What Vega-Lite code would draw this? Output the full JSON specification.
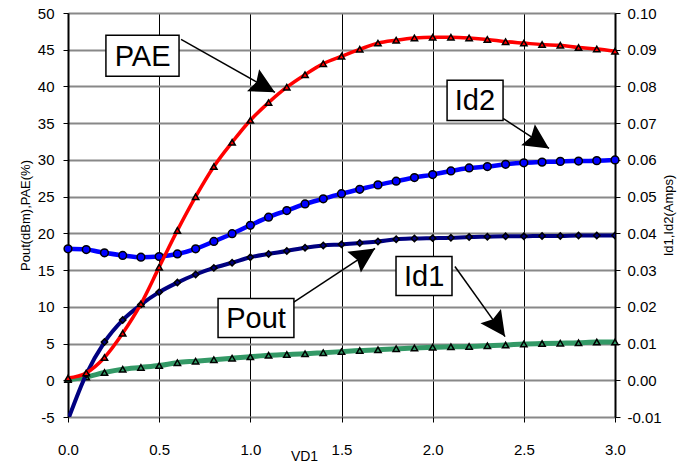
{
  "$schema": "https://vega.github.io/schema/vega-lite/v6.json",
  "width": 547,
  "height": 404,
  "autosize": {"type": "none"},
  "padding": {"left": 68, "top": 13, "right": 78, "bottom": 45},
  "background": "white",
  "datasets": {
    "left": [
      {"vd": 0.0, "pae": 0.3, "pout": -5.4},
      {"vd": 0.1, "pae": 1.0, "pout": 0.8},
      {"vd": 0.2, "pae": 3.1, "pout": 5.2},
      {"vd": 0.3, "pae": 6.4, "pout": 8.2},
      {"vd": 0.4, "pae": 10.4, "pout": 10.3},
      {"vd": 0.5, "pae": 15.4, "pout": 12.0},
      {"vd": 0.6, "pae": 20.4, "pout": 13.3},
      {"vd": 0.7, "pae": 25.0, "pout": 14.4},
      {"vd": 0.8, "pae": 29.1, "pout": 15.3},
      {"vd": 0.9, "pae": 32.4, "pout": 16.0},
      {"vd": 1.0, "pae": 35.4, "pout": 16.75},
      {"vd": 1.1, "pae": 37.8, "pout": 17.2},
      {"vd": 1.2, "pae": 39.9, "pout": 17.6},
      {"vd": 1.3, "pae": 41.6, "pout": 18.05},
      {"vd": 1.4, "pae": 43.1, "pout": 18.35},
      {"vd": 1.5, "pae": 44.1, "pout": 18.5},
      {"vd": 1.6, "pae": 45.05, "pout": 18.7},
      {"vd": 1.7, "pae": 45.9, "pout": 18.9},
      {"vd": 1.8, "pae": 46.3, "pout": 19.2},
      {"vd": 1.9, "pae": 46.6, "pout": 19.3},
      {"vd": 2.0, "pae": 46.7, "pout": 19.35},
      {"vd": 2.1, "pae": 46.7, "pout": 19.4},
      {"vd": 2.2, "pae": 46.6, "pout": 19.5},
      {"vd": 2.3, "pae": 46.4, "pout": 19.55},
      {"vd": 2.4, "pae": 46.1, "pout": 19.6},
      {"vd": 2.5, "pae": 45.9, "pout": 19.6},
      {"vd": 2.6, "pae": 45.7, "pout": 19.65},
      {"vd": 2.7, "pae": 45.6, "pout": 19.65},
      {"vd": 2.8, "pae": 45.3, "pout": 19.7},
      {"vd": 2.9, "pae": 45.1, "pout": 19.7},
      {"vd": 3.0, "pae": 44.8, "pout": 19.7}
    ],
    "right": [
      {"vd": 0.0, "id1": 0.0002, "id2": 0.0358},
      {"vd": 0.1, "id1": 0.0009, "id2": 0.0356},
      {"vd": 0.2, "id1": 0.0021, "id2": 0.0347},
      {"vd": 0.3, "id1": 0.0030, "id2": 0.0340},
      {"vd": 0.4, "id1": 0.0035, "id2": 0.0335},
      {"vd": 0.5, "id1": 0.0040, "id2": 0.0337},
      {"vd": 0.6, "id1": 0.0048, "id2": 0.0344},
      {"vd": 0.7, "id1": 0.0052, "id2": 0.0358},
      {"vd": 0.8, "id1": 0.0056, "id2": 0.0378},
      {"vd": 0.9, "id1": 0.0060, "id2": 0.0399},
      {"vd": 1.0, "id1": 0.0064, "id2": 0.0422},
      {"vd": 1.1, "id1": 0.0068, "id2": 0.0444},
      {"vd": 1.2, "id1": 0.0070, "id2": 0.0462},
      {"vd": 1.3, "id1": 0.0072, "id2": 0.0480},
      {"vd": 1.4, "id1": 0.0075, "id2": 0.0494},
      {"vd": 1.5, "id1": 0.0078, "id2": 0.0508},
      {"vd": 1.6, "id1": 0.0081, "id2": 0.0520},
      {"vd": 1.7, "id1": 0.0083, "id2": 0.0532},
      {"vd": 1.8, "id1": 0.0086, "id2": 0.0542},
      {"vd": 1.9, "id1": 0.0088, "id2": 0.0552},
      {"vd": 2.0, "id1": 0.0090, "id2": 0.0560},
      {"vd": 2.1, "id1": 0.0091, "id2": 0.0570},
      {"vd": 2.2, "id1": 0.0092, "id2": 0.0578},
      {"vd": 2.3, "id1": 0.0094, "id2": 0.0582},
      {"vd": 2.4, "id1": 0.0096, "id2": 0.0588},
      {"vd": 2.5, "id1": 0.0099, "id2": 0.0592},
      {"vd": 2.6, "id1": 0.0100, "id2": 0.0594},
      {"vd": 2.7, "id1": 0.0101, "id2": 0.0596},
      {"vd": 2.8, "id1": 0.0102, "id2": 0.0597},
      {"vd": 2.9, "id1": 0.0104, "id2": 0.0598},
      {"vd": 3.0, "id1": 0.0104, "id2": 0.0600}
    ],
    "notes": [
      {"label": "PAE", "bx0": 0.208, "bx1": 0.609, "by0": 41.38, "by1": 46.96, "tx": 0.409, "ty": 44.17, "sx": 0.620, "sy": 46.42, "ex": 1.135, "ey": 39.2},
      {"label": "Id2", "bx0": 2.079, "bx1": 2.386, "by0": 35.38, "by1": 40.83, "tx": 2.232, "ty": 38.1, "sx": 2.386, "sy": 35.65, "ex": 2.638, "ey": 31.57},
      {"label": "Pout", "bx0": 0.823, "bx1": 1.239, "by0": 5.82, "by1": 11.13, "tx": 1.031, "ty": 8.47, "sx": 1.201, "sy": 10.04, "ex": 1.684, "ey": 17.94},
      {"label": "Id1", "bx0": 1.799, "bx1": 2.106, "by0": 11.54, "by1": 16.85, "tx": 1.953, "ty": 14.2, "sx": 2.122, "sy": 15.49, "ex": 2.397, "ey": 5.95}
    ]
  },
  "layer": [
    {
      "data": {"name": "right"},
      "mark": {"type": "line", "color": "#339966", "strokeWidth": 5, "interpolate": "monotone"},
      "encoding": {
        "x": {"field": "vd", "type": "quantitative", "scale": {"domain": [0, 3], "nice": false},
          "axis": {"values": [0, 0.5, 1, 1.5, 2, 2.5, 3], "format": ".1f", "labelFlush": false, "grid": true, "gridColor": "black", "gridWidth": 1, "gridOpacity": 1, "domain": false, "tickSize": 5, "labelPadding": 20, "title": "VD1", "titleX": 236, "titleY": 43, "titleBaseline": "alphabetic", "titleAnchor": "middle", "titleAlign": "center", "titleFontSize": 14}},
        "y": {"field": "id1", "type": "quantitative", "scale": {"domain": [-0.01, 0.1], "nice": false, "zero": false},
          "axis": {"orient": "right", "values": [-0.01, 0, 0.01, 0.02, 0.03, 0.04, 0.05, 0.06, 0.07, 0.08, 0.09, 0.1], "labelExpr": "replace(format(datum.value, '.2f'), '\u2212', '-')", "labelFlush": false, "grid": false, "domainWidth": 2, "tickSize": 5, "labelPadding": 7, "title": "Id1,Id2(Amps)", "titleAngle": 270, "titleX": 53, "titleY": 202, "titleBaseline": "middle", "titleAlign": "center"}}
      }
    },
    {
      "data": {"name": "right"},
      "mark": {"type": "point", "shape": "triangle-up", "filled": true, "fill": "#339966", "stroke": "black", "strokeWidth": 1.5, "size": 40, "opacity": 1},
      "encoding": {
        "x": {"field": "vd", "type": "quantitative"},
        "y": {"field": "id1", "type": "quantitative", "scale": {"domain": [-0.01, 0.1], "nice": false, "zero": false}, "axis": null}
      }
    },
    {
      "data": {"name": "right"},
      "mark": {"type": "line", "color": "#0000FF", "strokeWidth": 4.5, "interpolate": "monotone"},
      "encoding": {
        "x": {"field": "vd", "type": "quantitative"},
        "y": {"field": "id2", "type": "quantitative", "scale": {"domain": [-0.01, 0.1], "nice": false, "zero": false}, "axis": null}
      }
    },
    {
      "data": {"name": "right"},
      "mark": {"type": "point", "shape": "circle", "filled": true, "fill": "#0000FF", "stroke": "black", "strokeWidth": 1.5, "size": 60, "opacity": 1},
      "encoding": {
        "x": {"field": "vd", "type": "quantitative"},
        "y": {"field": "id2", "type": "quantitative", "scale": {"domain": [-0.01, 0.1], "nice": false, "zero": false}, "axis": null}
      }
    },
    {
      "data": {"name": "left"},
      "mark": {"type": "line", "color": "#000080", "strokeWidth": 4, "interpolate": "monotone", "clip": true},
      "encoding": {
        "x": {"field": "vd", "type": "quantitative"},
        "y": {"field": "pout", "type": "quantitative", "scale": {"domain": [-5, 50], "nice": false, "zero": false},
          "axis": {"orient": "left", "values": [-5, 0, 5, 10, 15, 20, 25, 30, 35, 40, 45, 50], "labelExpr": "replace(format(datum.value, 'd'), '\u2212', '-')", "labelFlush": false, "grid": true, "gridColor": "#888888", "gridWidth": 2, "gridOpacity": 1, "domainWidth": 2, "tickSize": 5, "labelPadding": 9, "title": "Pout(dBm),PAE(%)", "titleAngle": 270, "titleX": -43, "titleY": 202, "titleBaseline": "middle", "titleAlign": "center"}}
      }
    },
    {
      "data": {"name": "left"},
      "mark": {"type": "point", "shape": "diamond", "filled": true, "fill": "#000080", "stroke": "black", "strokeWidth": 1.5, "size": 40, "opacity": 1, "clip": true},
      "encoding": {
        "x": {"field": "vd", "type": "quantitative"},
        "y": {"field": "pout", "type": "quantitative", "scale": {"domain": [-5, 50], "nice": false, "zero": false}, "axis": null}
      }
    },
    {
      "data": {"name": "left"},
      "mark": {"type": "line", "color": "#FF0000", "strokeWidth": 3.5, "interpolate": "monotone"},
      "encoding": {
        "x": {"field": "vd", "type": "quantitative"},
        "y": {"field": "pae", "type": "quantitative", "scale": {"domain": [-5, 50], "nice": false, "zero": false}, "axis": null}
      }
    },
    {
      "data": {"name": "left"},
      "mark": {"type": "point", "shape": "triangle-up", "filled": true, "fill": "#FF0000", "stroke": "black", "strokeWidth": 1.5, "size": 40, "opacity": 1},
      "encoding": {
        "x": {"field": "vd", "type": "quantitative"},
        "y": {"field": "pae", "type": "quantitative", "scale": {"domain": [-5, 50], "nice": false, "zero": false}, "axis": null}
      }
    },
    {
      "data": {"name": "notes"},
      "mark": {"type": "rule", "color": "black", "strokeWidth": 1.5},
      "encoding": {
        "x": {"field": "sx", "type": "quantitative"},
        "x2": {"field": "ex"},
        "y": {"field": "sy", "type": "quantitative", "scale": {"domain": [-5, 50], "nice": false, "zero": false}, "axis": null},
        "y2": {"field": "ey"}
      }
    },
    {
      "data": {"name": "notes"},
      "transform": [{"filter": "datum.label === 'PAE'"}],
      "mark": {"type": "point", "shape": "M0,0 L-0.5,1 L0,0.85 L0.5,1 Z", "filled": true, "fill": "black", "strokeWidth": 0, "size": 2500, "opacity": 1, "angle": 119},
      "encoding": {
        "x": {"field": "ex", "type": "quantitative"},
        "y": {"field": "ey", "type": "quantitative", "scale": {"domain": [-5, 50], "nice": false, "zero": false}, "axis": null}
      }
    },
    {
      "data": {"name": "notes"},
      "transform": [{"filter": "datum.label === 'Id2'"}],
      "mark": {"type": "point", "shape": "M0,0 L-0.5,1 L0,0.85 L0.5,1 Z", "filled": true, "fill": "black", "strokeWidth": 0, "size": 2500, "opacity": 1, "angle": 123},
      "encoding": {
        "x": {"field": "ex", "type": "quantitative"},
        "y": {"field": "ey", "type": "quantitative", "scale": {"domain": [-5, 50], "nice": false, "zero": false}, "axis": null}
      }
    },
    {
      "data": {"name": "notes"},
      "transform": [{"filter": "datum.label === 'Pout'"}],
      "mark": {"type": "point", "shape": "M0,0 L-0.5,1 L0,0.85 L0.5,1 Z", "filled": true, "fill": "black", "strokeWidth": 0, "size": 2500, "opacity": 1, "angle": 57},
      "encoding": {
        "x": {"field": "ex", "type": "quantitative"},
        "y": {"field": "ey", "type": "quantitative", "scale": {"domain": [-5, 50], "nice": false, "zero": false}, "axis": null}
      }
    },
    {
      "data": {"name": "notes"},
      "transform": [{"filter": "datum.label === 'Id1'"}],
      "mark": {"type": "point", "shape": "M0,0 L-0.5,1 L0,0.85 L0.5,1 Z", "filled": true, "fill": "black", "strokeWidth": 0, "size": 2500, "opacity": 1, "angle": 145},
      "encoding": {
        "x": {"field": "ex", "type": "quantitative"},
        "y": {"field": "ey", "type": "quantitative", "scale": {"domain": [-5, 50], "nice": false, "zero": false}, "axis": null}
      }
    },
    {
      "data": {"name": "notes"},
      "mark": {"type": "rect", "fill": "white", "stroke": "black", "strokeWidth": 1.5},
      "encoding": {
        "x": {"field": "bx0", "type": "quantitative"},
        "x2": {"field": "bx1"},
        "y": {"field": "by0", "type": "quantitative", "scale": {"domain": [-5, 50], "nice": false, "zero": false}, "axis": null},
        "y2": {"field": "by1"}
      }
    },
    {
      "data": {"name": "notes"},
      "mark": {"type": "text", "font": "Liberation Sans", "fontSize": 29, "color": "black", "align": "center", "baseline": "middle", "dy": 1},
      "encoding": {
        "x": {"field": "tx", "type": "quantitative"},
        "y": {"field": "ty", "type": "quantitative", "scale": {"domain": [-5, 50], "nice": false, "zero": false}, "axis": null},
        "text": {"field": "label"}
      }
    }
  ],
  "resolve": {"scale": {"y": "independent"}, "axis": {"y": "independent"}},
  "config": {
    "font": "Liberation Sans",
    "view": {"stroke": null},
    "axis": {
      "labelFont": "Liberation Sans",
      "labelFontSize": 15,
      "labelColor": "black",
      "titleFont": "Liberation Sans",
      "titleFontSize": 13,
      "titleFontWeight": "normal",
      "titleColor": "black",
      "tickColor": "black",
      "domainColor": "black",
      "ticks": true
    }
  }
}
